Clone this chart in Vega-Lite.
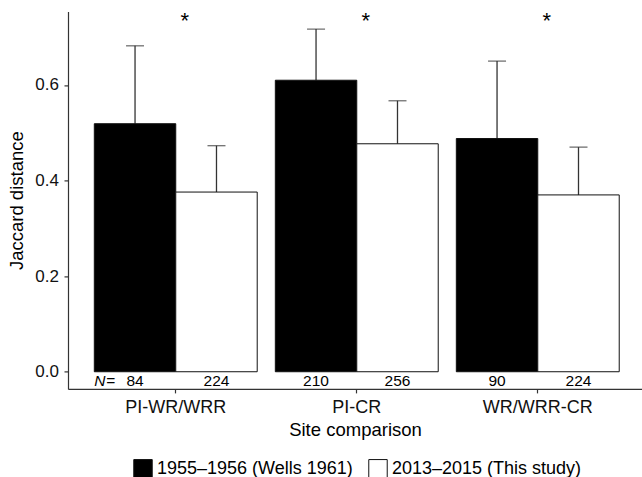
{
  "$schema": "https://vega.github.io/schema/vega-lite/v6.json",
  "autosize": {"type": "none"},
  "padding": {"left": 68, "top": 11.4, "right": 0, "bottom": 88.1},
  "width": 574,
  "height": 377.5,
  "background": "white",
  "config": {
    "view": {"stroke": null},
    "font": "Liberation Sans",
    "axis": {
      "domainColor": "#333333",
      "domainWidth": 1.2,
      "tickColor": "#333333",
      "tickWidth": 1.2,
      "tickSize": 4,
      "labelColor": "#111111",
      "labelFont": "Liberation Sans",
      "titleFont": "Liberation Sans",
      "titleFontWeight": "normal",
      "titleColor": "#000000",
      "grid": false
    }
  },
  "datasets": {
    "bars": [
      {"site": "PI-WR/WRR", "period": "1955–1956 (Wells 1961)", "mean": 0.519, "upper": 0.682, "n": "84"},
      {"site": "PI-WR/WRR", "period": "2013–2015 (This study)", "mean": 0.376, "upper": 0.473, "n": "224"},
      {"site": "PI-CR", "period": "1955–1956 (Wells 1961)", "mean": 0.610, "upper": 0.717, "n": "210"},
      {"site": "PI-CR", "period": "2013–2015 (This study)", "mean": 0.477, "upper": 0.567, "n": "256"},
      {"site": "WR/WRR-CR", "period": "1955–1956 (Wells 1961)", "mean": 0.488, "upper": 0.650, "n": "90"},
      {"site": "WR/WRR-CR", "period": "2013–2015 (This study)", "mean": 0.370, "upper": 0.470, "n": "224"}
    ],
    "stars": [
      {"site": "PI-WR/WRR", "label": "*"},
      {"site": "PI-CR", "label": "*"},
      {"site": "WR/WRR-CR", "label": "*"}
    ],
    "nlabel": [
      {"site": "PI-WR/WRR", "label": "N", "eq": "="}
    ]
  },
  "encoding": {
    "x": {
      "field": "site",
      "type": "nominal",
      "sort": ["PI-WR/WRR", "PI-CR", "WR/WRR-CR"],
      "scale": {"domain": ["PI-WR/WRR", "PI-CR", "WR/WRR-CR"], "paddingInner": 0.1, "paddingOuter": 0.1356, "align": 0.536},
      "axis": {
        "title": "Site comparison",
        "titleFontSize": 18.5,
        "titlePadding": 4,
        "labelFontSize": 18,
        "labelAngle": 0,
        "labelPadding": 6
      }
    }
  },
  "layer": [
    {
      "data": {"name": "bars"},
      "mark": {"type": "rule", "color": "#333333", "strokeWidth": 1.3},
      "encoding": {
        "xOffset": {"field": "period", "type": "nominal", "sort": ["1955–1956 (Wells 1961)", "2013–2015 (This study)"], "scale": {"paddingInner": 0, "paddingOuter": 0}},
        "y": {
          "field": "mean",
          "type": "quantitative",
          "scale": {"domain": [-0.0359, 0.754], "nice": false, "zero": false},
          "axis": {
            "title": "Jaccard distance",
            "titleFontSize": 18.5,
            "titlePadding": 8,
            "values": [0, 0.2, 0.4, 0.6],
            "format": ".1f",
            "labelFontSize": 17,
            "labelPadding": 5.5
          }
        },
        "y2": {"field": "upper"}
      }
    },
    {
      "data": {"name": "bars"},
      "mark": {"type": "tick", "color": "#333333", "thickness": 1.3, "size": 18},
      "encoding": {
        "xOffset": {"field": "period", "type": "nominal", "sort": ["1955–1956 (Wells 1961)", "2013–2015 (This study)"]},
        "y": {"field": "upper", "type": "quantitative"}
      }
    },
    {
      "data": {"name": "bars"},
      "mark": {"type": "bar", "stroke": "#111111", "strokeWidth": 1},
      "encoding": {
        "xOffset": {"field": "period", "type": "nominal", "sort": ["1955–1956 (Wells 1961)", "2013–2015 (This study)"]},
        "y": {"field": "mean", "type": "quantitative"},
        "y2": {"datum": 0},
        "fill": {
          "field": "period",
          "type": "nominal",
          "scale": {"domain": ["1955–1956 (Wells 1961)", "2013–2015 (This study)"], "range": ["#000000", "#ffffff"]},
          "legend": {
            "title": null,
            "orient": "none",
            "direction": "horizontal",
            "legendX": 65,
            "legendY": 447,
            "padding": 0,
            "symbolType": "square",
            "symbolSize": 340,
            "symbolStrokeColor": "#111111",
            "symbolStrokeWidth": 1,
            "labelFontSize": 18,
            "labelFont": "Liberation Sans",
            "labelColor": "#000000",
            "labelOffset": 4,
            "labelLimit": 400,
            "columnPadding": 13
          }
        }
      }
    },
    {
      "data": {"name": "bars"},
      "mark": {"type": "text", "fontSize": 15.5, "baseline": "middle", "color": "#000000"},
      "encoding": {
        "xOffset": {"field": "period", "type": "nominal", "sort": ["1955–1956 (Wells 1961)", "2013–2015 (This study)"]},
        "y": {"datum": -0.019},
        "text": {"field": "n"}
      }
    },
    {
      "data": {"name": "stars"},
      "mark": {"type": "text", "fontSize": 22, "baseline": "alphabetic", "dx": 9, "color": "#000000"},
      "encoding": {
        "y": {"datum": 0.719},
        "text": {"field": "label"}
      }
    },
    {
      "data": {"name": "nlabel"},
      "mark": {"type": "text", "fontSize": 15.5, "baseline": "middle", "align": "left", "fontStyle": "italic", "color": "#000000"},
      "encoding": {
        "x": {"field": "site", "type": "nominal", "bandPosition": 0},
        "y": {"datum": -0.019},
        "text": {"field": "label"}
      }
    },
    {
      "data": {"name": "nlabel"},
      "mark": {"type": "text", "fontSize": 15.5, "baseline": "middle", "align": "left", "dx": 12, "color": "#000000"},
      "encoding": {
        "x": {"field": "site", "type": "nominal", "bandPosition": 0},
        "y": {"datum": -0.019},
        "text": {"field": "eq"}
      }
    }
  ]
}
